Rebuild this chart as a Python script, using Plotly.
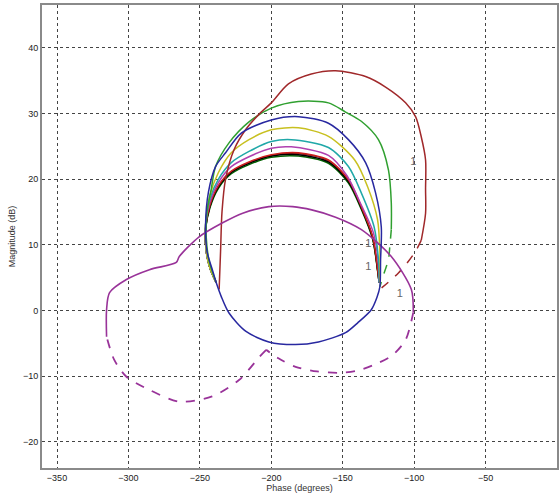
import plotly.graph_objects as go

# ---- data (phase in degrees, magnitude in dB) ----
red_big_phase = [-236.5, -235.5, -234.5, -232, -226, -218, -208, -200, -188, -172, -155, -134, -120, -106, -99, -95, -92, -92, -92, -95]
red_big_mag = [3.2, 9, 15, 20, 24.5, 27.5, 30, 31.6, 34.5, 36, 36.5, 35.6, 34, 31.6, 29.5, 26.4, 22.9, 18.5, 14.8, 10.7]
red_big_dash_phase = [-95, -99, -105, -111, -118, -124]
red_big_dash_mag = [10.7, 9.0, 7.2, 5.7, 4.3, 3.2]

green_phase = [-238.5, -243.5, -245.5, -245, -242, -239, -229.6, -215.6, -200, -181, -160, -148, -137, -125, -118, -116, -116]
green_mag = [4.2, 7.5, 11, 15, 18.5, 21.9, 25.5, 28.7, 30.8, 31.8, 31.6, 30.2, 28.8, 26, 21.4, 16.4, 12.3]
green_dash_phase = [-116, -117, -118, -121, -124]
green_dash_mag = [12.3, 9.8, 7.7, 5.7, 3.6]

blue_phase = [-124, -123.5, -123, -127, -134, -146, -160, -181, -200, -221, -232, -239, -244, -246, -245, -241, -238.5,
              -235, -229.6, -217.7, -201.7, -183, -167, -148, -139.5, -130, -126, -124]
blue_mag = [3.6, 7.7, 12.7, 17.9, 22.5, 26, 28.5, 29.5, 29, 27, 24, 21.9, 18, 13, 9, 6, 4.2,
            2.1, -0.4, -3.2, -4.8, -5.2, -4.8, -3.4, -1.9, 0.1, 2.0, 3.6]

yellow_phase = [-124, -124, -125.6, -132.5, -141.6, -160, -181, -200, -215.6, -228, -237, -243, -246, -245.5, -243, -238.5]
yellow_mag = [4.2, 8.8, 13.8, 18.8, 22.9, 26.5, 27.8, 27.5, 26, 24, 21, 17.5, 13, 9, 6.5, 4.2]

cyan_phase = [-124.5, -125, -128, -137, -146, -160, -186, -200, -215.6, -228, -237, -243, -246, -245.5, -243, -238.5]
cyan_mag = [4.2, 7.7, 12.7, 17.9, 21.9, 24.8, 26, 25.7, 24.2, 22.5, 20, 17, 13, 9, 6.5, 4.2]

magenta_phase = [-124.5, -125, -128.5, -138, -147, -160, -186, -200, -215.6, -228, -237, -243, -246, -245.5, -243, -238.5]
magenta_mag = [4.2, 7, 11.8, 16.5, 20.5, 23.6, 24.9, 24.7, 23.4, 21.9, 19.5, 16.5, 13, 9, 6.5, 4.2]

cluster_phase = [-124.5, -125.5, -129, -137, -146, -160, -181, -200, -215.6, -228, -237, -243, -246, -245.5, -243, -238.5]
cluster_red_mag = [4.2, 6.2, 11.2, 15.8, 19.9, 22.9, 24.0, 23.7, 22.6, 21.2, 19, 16, 12.5, 9, 6.5, 4.2]
cluster_black_mag = [4.2, 6.0, 11.0, 15.6, 19.6, 22.6, 23.7, 23.5, 22.4, 21.0, 18.8, 15.8, 12.4, 9, 6.5, 4.2]
cluster_dkgreen_mag = [4.2, 5.9, 10.8, 15.4, 19.4, 22.4, 23.5, 23.3, 22.2, 20.8, 18.6, 15.6, 12.3, 9, 6.5, 4.2]
cluster_brown_mag = [4.2, 6.1, 11.1, 15.7, 19.8, 22.8, 23.9, 23.6, 22.5, 21.1, 18.9, 15.9, 12.5, 9, 6.5, 4.2]

purple_phase = [-315.3, -315.3, -313.2, -301.4, -285.3, -266.5, -264.4, -250.5, -234.4, -220, -201.7, -185, -171.7, -155, -136.9, -116, -102, -100.6]
purple_mag = [-4.0, 0.1, 2.7, 4.7, 6.2, 7.3, 8.2, 11.2, 13.3, 14.8, 15.8, 15.8, 15.3, 14.2, 12.3, 8.2, 3.2, -0.3]
purple_dash_r_phase = [-100.6, -106, -115, -125, -140, -153, -168, -183, -195, -203.6]
purple_dash_r_mag = [-0.3, -4.5, -6.8, -8.0, -9.2, -9.5, -9.3, -8.6, -7.3, -6.0]
purple_dash_l_phase = [-203.6, -208, -222.6, -241.4, -264.4, -285.3, -301.4, -310, -315.3]
purple_dash_l_mag = [-6.0, -7.0, -10.6, -13.1, -13.9, -12.1, -10.1, -7.5, -4.0]

label_phase = [-100.5, -132, -132, -110]
label_mag = [22.5, 10.0, 6.5, 2.4]
label_text = ["1", "1", "1", "1"]

x_ticks = [-350, -300, -250, -200, -150, -100, -50, 0]
y_ticks = [-20, -10, 0, 10, 20, 30, 40]

fig = go.Figure()


def add(px, py, color, dash="solid", width=1.5):
    fig.add_trace(go.Scatter(x=px, y=py, mode="lines",
                             line=dict(color=color, width=width, dash=dash, shape="spline", smoothing=0.8),
                             showlegend=False, hoverinfo="skip"))


add(cluster_phase, cluster_brown_mag, "#8b1a1a")
add(cluster_phase, cluster_dkgreen_mag, "#006400")
add(cluster_phase, cluster_black_mag, "#000000")
add(cluster_phase, cluster_red_mag, "#cc2020")
add(magenta_phase, magenta_mag, "#b040b0")
add(cyan_phase, cyan_mag, "#20a8a8")
add(yellow_phase, yellow_mag, "#c8c020")
add(green_phase, green_mag, "#30a030")
add(green_dash_phase, green_dash_mag, "#30a030", dash="dash")
add(red_big_phase, red_big_mag, "#a0282a")
add(red_big_dash_phase, red_big_dash_mag, "#a0282a", dash="dash")
add(purple_phase, purple_mag, "#993399", width=1.6)
add(purple_dash_r_phase, purple_dash_r_mag, "#993399", dash="dash", width=1.8)
add(purple_dash_l_phase, purple_dash_l_mag, "#993399", dash="dash", width=1.8)
add(blue_phase, blue_mag, "#2828a0")

fig.add_trace(go.Scatter(x=label_phase, y=label_mag, mode="text", text=label_text,
                         textfont=dict(color="#666666", size=11, family="Liberation Sans"),
                         showlegend=False, hoverinfo="skip"))

fig.update_layout(
    width=559, height=497,
    margin=dict(l=42, r=0, t=5, b=29),
    paper_bgcolor="white", plot_bgcolor="white",
    font=dict(family="Liberation Sans", size=9, color="#222222"),
)
fig.update_xaxes(range=[-360.5, 0], tickvals=x_ticks, showgrid=True, gridcolor="#444444",
                 griddash="dot", gridwidth=1, zeroline=False, showline=True, linecolor="#8a8a8a",
                 linewidth=2, mirror=True, ticks="", tickfont=dict(size=9, color="#222222"),
                 title=dict(text="Phase (degrees)", font=dict(size=9, color="#333333"), standoff=3))
fig.update_yaxes(range=[-24, 46.5], tickvals=y_ticks, showgrid=True, gridcolor="#444444",
                 griddash="dot", gridwidth=1, zeroline=False, showline=True, linecolor="#8a8a8a",
                 linewidth=2, mirror=True, ticks="", tickfont=dict(size=9, color="#222222"),
                 title=dict(text="Magnitude (dB)", font=dict(size=9, color="#333333"), standoff=6))

fig.write_html("out.html", config={"displayModeBar": False},
               post_script="document.body.style.margin='0';document.body.style.overflow='hidden';")
